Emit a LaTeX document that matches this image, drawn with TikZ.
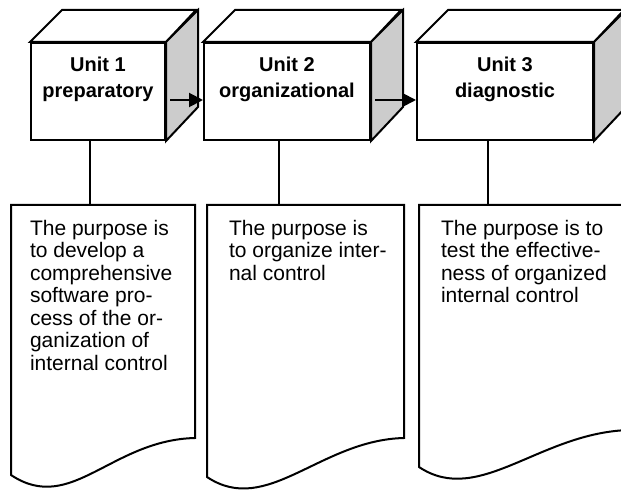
\documentclass[tikz,border=0pt]{standalone}
\usepackage{fontspec}
\setmainfont{Liberation Sans}
\usetikzlibrary{arrows.meta,positioning}
\definecolor{sidegray}{gray}{0.8}

\begin{document}
\begin{tikzpicture}[
x=0.5pt, y=-0.5pt,
line width=1pt,
front/.style={draw,fill=white,minimum height=48.5pt,inner sep=0pt},
lid/.style={draw,fill=white},
side/.style={draw,fill=sidegray},
unittext/.style={font=\bfseries\fontsize{10pt}{13pt}\selectfont,align=center,inner sep=0pt,anchor=north},
purpose/.style={font=\fontsize{10.5pt}{11.25pt}\selectfont,align=left,inner sep=0pt,anchor=north west},
link/.style={-{Triangle[length=7pt,width=7pt]},shorten <=2pt}
]
    % page
    \useasboundingbox (0,0) rectangle (621,491);
    \clip (0,0) rectangle (621,491);

    % Unit 1
    \node[front, minimum width=67pt] (u1) at (98,91.5) {};
    \draw[lid] (u1.north west) -- ++(32,-32) -- ++(134,0) -- (u1.north east) -- cycle;
    \draw[side] (u1.north east) -- ++(32,-32) -- ++(0,97) -- (u1.south east) -- cycle;
    \node[unittext] (h1) at (98,56) {Unit 1\\preparatory};

    % Unit 2
    \node[front, minimum width=83pt] (u2) at (287,91.5) {};
    \draw[lid] (u2.north west) -- ++(32,-32) -- ++(166,0) -- (u2.north east) -- cycle;
    \draw[side] (u2.north east) -- ++(32,-32) -- ++(0,97) -- (u2.south east) -- cycle;
    \node[unittext] (h2) at (287,56) {Unit 2\\organizational};

    % Unit 3
    \node[front, minimum width=88pt] (u3) at (505,91.5) {};
    \draw[lid] (u3.north west) -- ++(32,-32) -- ++(176,0) -- (u3.north east) -- cycle;
    \draw[side] (u3.north east) -- ++(32,-32) -- ++(0,97) -- (u3.south east) -- cycle;
    \node[unittext] (h3) at (505,56) {Unit 3\\diagnostic};

    % arrows between units
    \draw[link] ([yshift=-4.25pt]u1.east) -- ([yshift=-4.25pt]u2.west);
    \draw[link] ([yshift=-4.25pt]u2.east) -- ([yshift=-4.25pt]u3.west);

    % documents
    \draw (11,205) coordinate (d1) -- (195,205) -- (195,438)
        .. controls (111,440) and (71,515) .. (11,475) -- cycle;
    \draw (207,205) coordinate (d2) -- (404,205) -- (404,438)
        .. controls (320,440) and (267,517) .. (207,477) -- cycle;
    \draw (419,205) coordinate (d3) -- (630,205) -- (630,430)
        .. controls (540,432) and (479,507) .. (419,467) -- cycle;

    % stems
    \coordinate (s1) at (90,205);
    \coordinate (s2) at (279,205);
    \coordinate (s3) at (488,205);
    \draw (s1 |- u1.south) -- (s1);
    \draw (s2 |- u2.south) -- (s2);
    \draw (s3 |- u3.south) -- (s3);

    \node[purpose] (p1) at (29,219) {The purpose is\\to develop a\\comprehensive\\software pro-\\cess of the or-\\ganization of\\internal control};
    \node[purpose] (p2) at (228,219) {The purpose is\\to organize inter-\\nal control};
    \node[purpose] (p3) at (440,219) {The purpose is to\\test the effective-\\ness of organized\\internal control};
\end{tikzpicture}
\end{document}
